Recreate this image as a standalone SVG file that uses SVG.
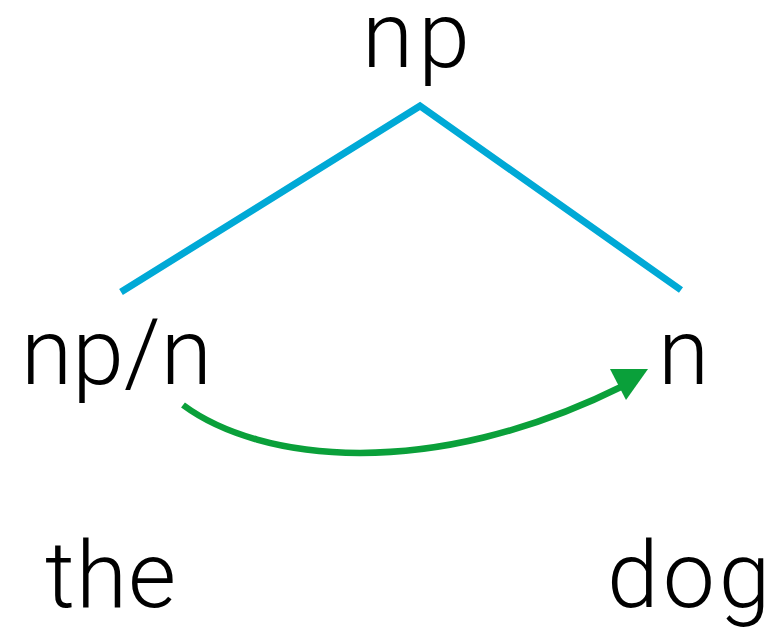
<svg xmlns="http://www.w3.org/2000/svg" width="782" height="631" viewBox="0 0 782 631">
<style>
.lbl{font-family:Roboto,"Liberation Sans",Arial,sans-serif;font-weight:300;font-size:93px;fill:#000}
.tree{stroke:#00a9d6;stroke-width:7;fill:none}
.dep{stroke:#0aa03a;stroke-width:6.5;fill:none}
</style>
<rect width="782" height="631" fill="#fff"/>
<g id="connectors">
<polyline class="tree" points="121,292 420,106 681,290"/>
<path class="dep" d="M183,405 C260,462 430,482 623,386"/>
<polygon points="610,369 648,369 626,400" fill="#0aa03a"/>
</g>
<g id="node-np"><text class="lbl" x="362" y="67" letter-spacing="5">np</text></g>
<g id="node-npn"><text class="lbl" x="21" y="384">np/n</text></g>
<g id="node-n"><text class="lbl" x="658" y="384">n</text></g>
<g id="node-the"><text class="lbl" x="45" y="607" letter-spacing="1">the</text></g>
<g id="node-dog"><text class="lbl" x="607" y="607" letter-spacing="4">dog</text></g>
</svg>
